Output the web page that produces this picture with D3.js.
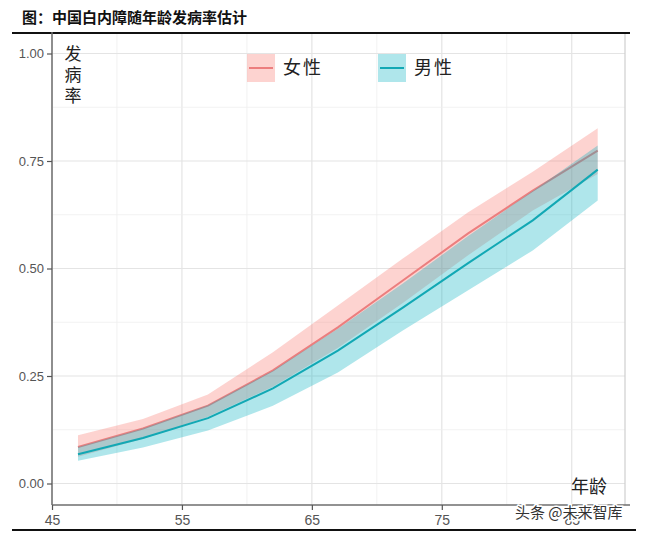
<!DOCTYPE html>
<html>
<head>
<meta charset="utf-8">
<script src="https://cdn.jsdelivr.net/npm/d3@7"></script>
<style>
  body { margin: 0; background: #fff; }
  svg { display: block; }
  .cjk { font-family: "Noto Sans CJK SC", sans-serif; }
</style>
</head>
<body>
<svg width="648" height="533"></svg>
<script>
var ages = [47, 52, 57, 62, 67, 72, 77, 82, 87];
var femaleRate  = [0.085, 0.128, 0.181, 0.263, 0.363, 0.472, 0.581, 0.681, 0.774];
var femaleUpper = [0.112, 0.150, 0.207, 0.305, 0.414, 0.523, 0.630, 0.725, 0.826];
var femaleLower = [0.062, 0.104, 0.155, 0.225, 0.315, 0.420, 0.530, 0.635, 0.720];
var maleRate  = [0.068, 0.106, 0.152, 0.221, 0.309, 0.409, 0.512, 0.612, 0.730];
var maleUpper = [0.085, 0.128, 0.182, 0.262, 0.360, 0.465, 0.575, 0.680, 0.786];
var maleLower = [0.053, 0.084, 0.123, 0.181, 0.258, 0.356, 0.449, 0.542, 0.658];
var xTicks = [45, 55, 65, 75, 85];
var yTicks = [0, 0.25, 0.5, 0.75, 1];

var svg = d3.select('svg');
var pLeft = 52, pRight = 625, pTop = 32, pBottom = 505;

var x = d3.scaleLinear().domain([45, 89.1]).range([pLeft, pRight]);
var y = d3.scaleLinear().domain([-0.05, 1.05]).range([pBottom, pTop]);

// title
svg.append('text').attr('class', 'cjk')
  .attr('x', 22).attr('y', 23)
  .attr('font-size', 15).attr('font-weight', 700).attr('fill', '#111')
  .text('图：中国白内障随年龄发病率估计');

// grid
var g = svg.append('g');
d3.range(45, 90, 5).forEach(function(v){
  g.append('line').attr('x1', x(v)).attr('x2', x(v)).attr('y1', pTop).attr('y2', pBottom)
    .attr('stroke', v % 10 === 5 ? '#e4e4e4' : '#efefef').attr('stroke-width', v % 10 === 5 ? 1.2 : 0.8);
});
d3.range(0, 1.01, 0.125).forEach(function(v){
  var major = Math.abs(v * 4 - Math.round(v * 4)) < 1e-6;
  g.append('line').attr('x1', pLeft).attr('x2', pRight).attr('y1', y(v)).attr('y2', y(v))
    .attr('stroke', major ? '#e4e4e4' : '#efefef').attr('stroke-width', major ? 1.2 : 0.8);
});

var series = [
  {name: '女性', rate: femaleRate, lo: femaleLower, hi: femaleUpper, fill: '#f8766d', line: '#ec7e7e'},
  {name: '男性', rate: maleRate, lo: maleLower, hi: maleUpper, fill: '#05b0c2', line: '#12a8b4'}
];

var area = d3.area().x(function(d){ return x(d.age); })
  .y0(function(d){ return y(d.lo); }).y1(function(d){ return y(d.hi); });
var line = d3.line().x(function(d){ return x(d.age); }).y(function(d){ return y(d.v); });

series.forEach(function(s){
  var pts = ages.map(function(a, i){ return {age: a, v: s.rate[i], lo: s.lo[i], hi: s.hi[i]}; });
  svg.append('path').datum(pts).attr('d', area).attr('fill', s.fill).attr('fill-opacity', 0.32);
  svg.append('path').datum(pts).attr('d', line).attr('fill', 'none')
    .attr('stroke', s.line).attr('stroke-width', 2);
});

// panel borders
svg.append('line').attr('x1', pRight).attr('x2', pRight).attr('y1', pTop).attr('y2', pBottom)
  .attr('stroke', '#cfcfcf').attr('stroke-width', 1.2);
svg.append('line').attr('x1', 12).attr('x2', 630).attr('y1', 33).attr('y2', 33)
  .attr('stroke', '#111').attr('stroke-width', 2);
svg.append('line').attr('x1', 12).attr('x2', 636).attr('y1', 530).attr('y2', 530)
  .attr('stroke', '#111').attr('stroke-width', 2);

// axes
var yAxis = svg.append('g').attr('transform', 'translate(' + pLeft + ',0)')
  .call(d3.axisLeft(y).tickValues(yTicks).tickFormat(d3.format('.2f')).tickSize(5).tickSizeOuter(0));
var xAxis = svg.append('g').attr('transform', 'translate(0,' + pBottom + ')')
  .call(d3.axisBottom(x).tickValues(xTicks).tickFormat(d3.format('d')).tickSize(5).tickSizeOuter(0));
[yAxis, xAxis].forEach(function(a){
  a.attr('font-family', '"Liberation Sans", Arial, sans-serif');
  a.selectAll('.tick text').attr('fill', '#555');
  a.select('.domain').attr('stroke', '#6e6e6e').attr('stroke-width', 1.5);
  a.selectAll('.tick line').attr('stroke', '#555').attr('stroke-width', 1.2);
});
yAxis.attr('font-size', 13);
xAxis.attr('font-size', 14);
yAxis.select('.domain').attr('d', 'M0,' + pTop + 'V' + pBottom);
xAxis.select('.domain').attr('d', 'M' + pLeft + ',0H630');
xAxis.selectAll('.tick text').attr('dy', '0.85em');

// axis titles
['发', '病', '率'].forEach(function(c, i){
  svg.append('text').attr('class', 'cjk').attr('x', 73).attr('y', 60 + i * 21)
    .attr('text-anchor', 'middle').attr('font-size', 17).attr('fill', '#222').text(c);
});
svg.append('text').attr('class', 'cjk').attr('x', 589).attr('y', 493)
  .attr('text-anchor', 'middle').attr('font-size', 18).attr('fill', '#222').text('年龄');

// legend
var leg = [{x: 247, s: series[0]}, {x: 378, s: series[1]}];
leg.forEach(function(l){
  svg.append('rect').attr('x', l.x).attr('y', 54).attr('width', 28).attr('height', 28)
    .attr('fill', l.s.fill).attr('fill-opacity', 0.32);
  svg.append('line').attr('x1', l.x + 2).attr('x2', l.x + 26).attr('y1', 68).attr('y2', 68)
    .attr('stroke', l.s.line).attr('stroke-width', 2);
  svg.append('text').attr('class', 'cjk').attr('x', l.x + 36).attr('y', 74)
    .attr('font-size', 18).attr('fill', '#222').attr('letter-spacing', 2).text(l.s.name);
});

// watermark
svg.append('text').attr('class', 'cjk').attr('x', 515).attr('y', 518)
  .attr('font-size', 15).attr('fill', '#333')
  .attr('stroke', '#fff').attr('stroke-width', 3).attr('paint-order', 'stroke')
  .text('头条 @未来智库');
</script>
</body>
</html>
